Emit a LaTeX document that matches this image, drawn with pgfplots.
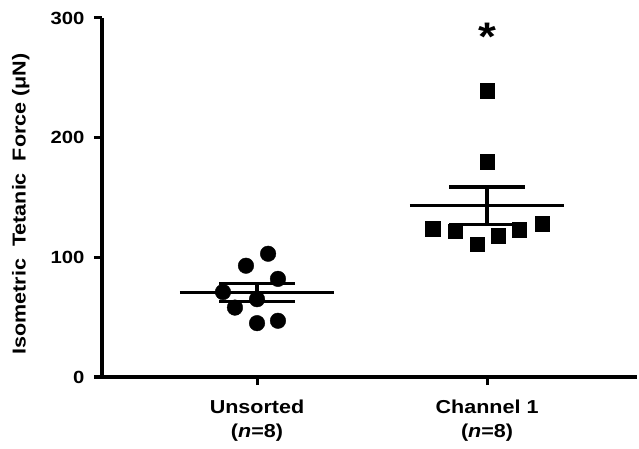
\documentclass[border=0pt]{standalone}
\usepackage{fontspec}
\setmainfont{Liberation Sans}[FakeStretch=1.15]
\usepackage{pgfplots}
\pgfplotsset{compat=1.18}
\begin{document}
\begin{tikzpicture}
\path[use as bounding box] (0,0) rectangle (639bp,449bp);
\begin{axis}[
  at={(102bp,72bp)}, anchor=south west,
  scale only axis, width=535bp, height=359bp,
  xmin=0.326, xmax=2.652, ymin=0, ymax=300,
  axis x line*=bottom, axis y line*=left,
  axis line style={line width=3bp},
  every tick/.style={black, line width=3bp},
  tick align=outside, major tick length=8bp,
  xtick={1,2},
  xticklabels={{Unsorted\\(\textit{n}=8)},{Channel 1\\(\textit{n}=8)}},
  xticklabel style={align=center, font=\bfseries\fontsize{18.8}{25}\selectfont, yshift=-11bp},
  ytick={0,100,200,300},
  yticklabel style={font=\bfseries\fontsize{17.7}{18}\selectfont, xshift=-6bp},
  /pgf/number format/assume math mode=true,
  ylabel={Isometric\ \ Tetanic\ \ Force (μN)},
  ylabel style={font=\bfseries\fontsize{18.8}{20}\selectfont, at={(axis description cs:-0.152,0.482)}, anchor=center},
  clip=false,
]
% Unsorted
\addplot[only marks, mark=*, mark size=7.8bp, black] coordinates {
 (1.048,103) (0.952,93) (1.091,82) (0.852,71) (0.904,58) (1.0,65) (1.0,45) (1.091,47)};
% Channel 1
\addplot[only marks, mark=square*, mark size=7.3bp, black] coordinates {
 (2.0,239) (2.0,180) (1.765,124) (1.861,122) (1.957,111) (2.048,118) (2.139,123) (2.239,128)};
% mean and SEM, Unsorted
\addplot[black, line width=3.2bp, no marks] coordinates {(0.665,70.5) (1.335,70.5)};
\addplot[black, line width=3.2bp, no marks] coordinates {(0.835,77.9) (1.165,77.9)};
\addplot[black, line width=3.2bp, no marks] coordinates {(0.835,63.1) (1.165,63.1)};
\addplot[black, line width=3.2bp, no marks] coordinates {(1,63.1) (1,77.9)};
% mean and SEM, Channel 1
\addplot[black, line width=3.2bp, no marks] coordinates {(1.665,143.1) (2.335,143.1)};
\addplot[black, line width=3.2bp, no marks] coordinates {(1.835,158.7) (2.165,158.7)};
\addplot[black, line width=3.2bp, no marks] coordinates {(1.835,127.5) (2.165,127.5)};
\addplot[black, line width=3.2bp, no marks] coordinates {(2,127.5) (2,158.7)};
\node[anchor=base, font=\bfseries\fontsize{40}{40}\selectfont, inner sep=0pt] at (axis cs:2,273) {*};
\end{axis}
\end{tikzpicture}
\end{document}
